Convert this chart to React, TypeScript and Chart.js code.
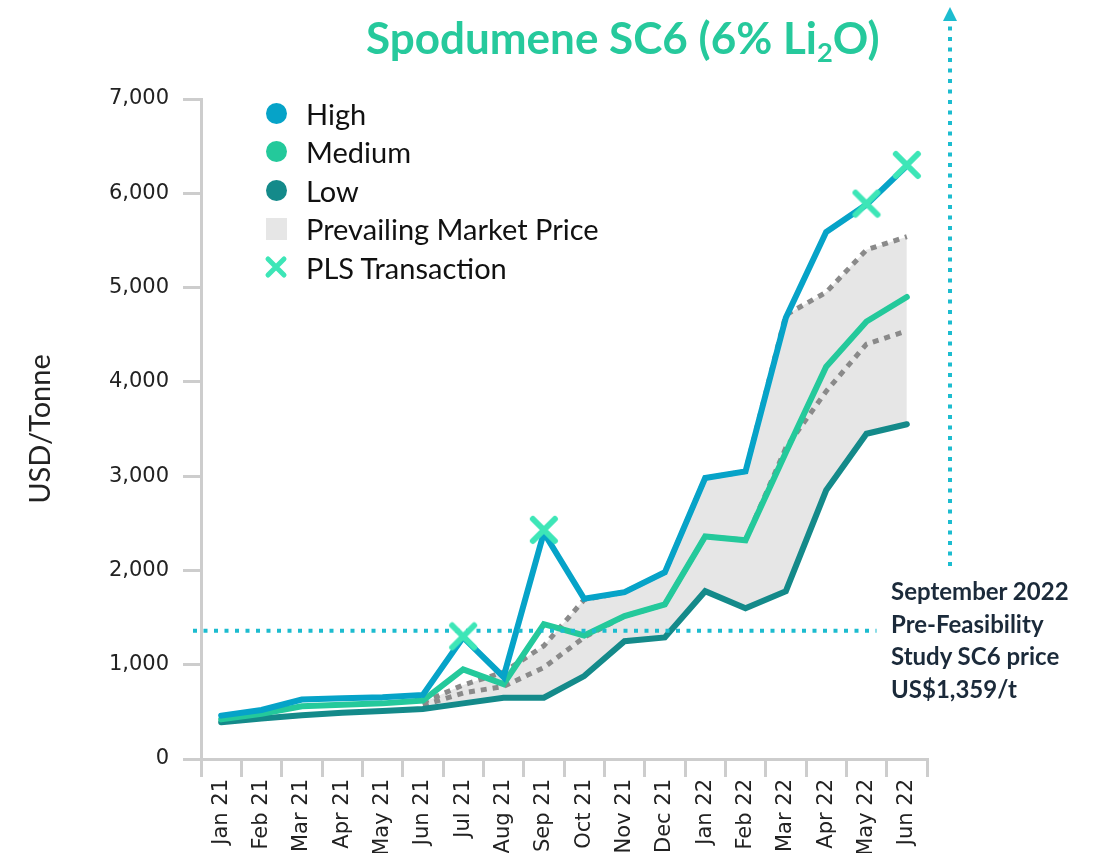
import React, { useEffect, useRef } from 'react';
import { Chart, registerables } from 'chart.js';

Chart.register(...registerables);

const categories = ['Jan 21', 'Feb 21', 'Mar 21', 'Apr 21', 'May 21', 'Jun 21', 'Jul 21', 'Aug 21', 'Sep 21', 'Oct 21', 'Nov 21', 'Dec 21', 'Jan 22', 'Feb 22', 'Mar 22', 'Apr 22', 'May 22', 'Jun 22'];
const high = [460, 520, 630, 645, 655, 680, 1290, 870, 2400, 1700, 1770, 1980, 2980, 3050, 4680, 5590, 5880, 6290];
const medium = [420, 480, 560, 575, 590, 620, 950, 795, 1430, 1310, 1515, 1640, 2360, 2320, 3250, 4160, 4640, 4900];
const low = [390, 430, 465, 490, 510, 530, 590, 650, 650, 880, 1250, 1290, 1780, 1600, 1780, 2850, 3450, 3550];
const marketUpper = [null, null, null, null, null, 600, 785, 920, 1200, 1690, 1770, 1980, 2980, 3050, 4710, 4950, 5400, 5540];
const marketLower = [null, null, null, null, null, 570, 700, 770, 970, 1290, 1515, 1640, 2360, 2320, 3300, 3900, 4400, 4540];
const plsTransaction = [null, null, null, null, null, null, 1300, null, 2430, null, null, null, null, null, null, null, 5890, 6300];
const studyPrice = 1359;
const yTicks = [0, 1000, 2000, 3000, 4000, 5000, 6000, 7000];

const C_HIGH = '#06a3c8';
const C_MED = '#24c99b';
const C_LOW = '#148a8a';
const C_BAND = '#e6e6e6';
const C_DOT = '#8a8a8a';
const C_PLS = '#3de6b7';
const C_CYAN = '#1cbccf';
const C_AXIS = '#cdcdcd';

function makeCross(size: number, lw: number, color: string) {
  const c = document.createElement('canvas');
  c.width = size;
  c.height = size;
  const ctx = c.getContext('2d')!;
  const p = lw / 2 + 1;
  ctx.strokeStyle = color;
  ctx.lineWidth = lw;
  ctx.lineCap = 'round';
  ctx.beginPath();
  ctx.moveTo(p, p);
  ctx.lineTo(size - p, size - p);
  ctx.moveTo(size - p, p);
  ctx.lineTo(p, size - p);
  ctx.stroke();
  return c;
}

const decorPlugin = {
  id: 'decor',
  beforeDatasetDraw(chart: any, args: any) {
    if (args.index !== 0) return;
    const { ctx, scales, chartArea } = chart;
    const y = scales.y.getPixelForValue(studyPrice);
    const x0 = chartArea.left - 8;
    const x1 = scales.x.getPixelForValue(16) + 10;
    ctx.save();
    ctx.strokeStyle = C_CYAN;
    ctx.lineWidth = 4;
    ctx.setLineDash([4, 6.5]);
    ctx.beginPath();
    ctx.moveTo(x0, y);
    ctx.lineTo(x1, y);
    ctx.stroke();
    ctx.restore();
  },
  afterDraw(chart: any) {
    const { ctx, chartArea } = chart;
    const x = chartArea.right + 23;
    const yBottom = 566;
    const yTop = 20;
    ctx.save();
    ctx.strokeStyle = C_CYAN;
    ctx.lineWidth = 4;
    ctx.setLineDash([4, 6.5]);
    ctx.beginPath();
    ctx.moveTo(x, yBottom);
    ctx.lineTo(x, yTop);
    ctx.stroke();
    ctx.setLineDash([]);
    ctx.fillStyle = C_CYAN;
    ctx.beginPath();
    ctx.moveTo(x, 7);
    ctx.lineTo(x - 7, 21);
    ctx.lineTo(x + 7, 21);
    ctx.closePath();
    ctx.fill();
    ctx.restore();
  },
};

export default function App() {
  const ref = useRef<HTMLCanvasElement>(null);

  useEffect(() => {
    if (!ref.current) return;
    const cross = makeCross(30, 6, C_PLS);
    const chart = new Chart(ref.current, {
      type: 'line',
      data: {
        labels: categories,
        datasets: [
          {
            label: 'PLS Transaction',
            data: plsTransaction,
            showLine: false,
            pointStyle: cross as any,
            pointRadius: 15,
            order: 0,
          } as any,
          {
            label: 'High',
            data: high,
            borderColor: C_HIGH,
            borderWidth: 6,
            pointRadius: 0,
            borderCapStyle: 'round',
            order: 1,
          },
          {
            label: 'Medium',
            data: medium,
            borderColor: C_MED,
            borderWidth: 6,
            pointRadius: 0,
            borderCapStyle: 'round',
            order: 2,
          },
          {
            label: 'Low',
            data: low,
            borderColor: C_LOW,
            borderWidth: 6,
            pointRadius: 0,
            borderCapStyle: 'round',
            order: 3,
          },
          {
            label: 'Market lower',
            data: marketLower,
            borderColor: C_DOT,
            borderWidth: 5,
            borderDash: [6, 6],
            pointRadius: 0,
            order: 4,
          },
          {
            label: 'Prevailing Market Price',
            data: marketUpper,
            borderColor: C_DOT,
            borderWidth: 5,
            borderDash: [6, 6],
            pointRadius: 0,
            backgroundColor: C_BAND,
            fill: { target: 3 },
            order: 5,
          } as any,
        ],
      },
      options: {
        responsive: false,
        animation: false,
        devicePixelRatio: 1,
        events: [],
        layout: { padding: { top: 99, right: 175, bottom: 0, left: 0 } },
        plugins: {
          legend: { display: false },
          tooltip: { enabled: false },
          title: { display: false },
        },
        scales: {
          x: {
            type: 'category',
            offset: true,
            grid: {
              offset: true,
              drawOnChartArea: false,
              drawTicks: true,
              tickLength: 18,
              color: C_AXIS,
              lineWidth: 3,
            },
            border: { display: true, color: C_AXIS, width: 3 },
            ticks: {
              autoSkip: false,
              maxRotation: 90,
              minRotation: 90,
              padding: 2,
              color: '#222',
              font: { family: 'DejaVu Sans', size: 21 },
            },
            afterFit: (s: any) => {
              s.height = 94;
            },
          },
          y: {
            min: 0,
            max: 7000,
            afterBuildTicks: (s: any) => {
              s.ticks = yTicks.map((v) => ({ value: v }));
            },
            grid: {
              drawOnChartArea: false,
              drawTicks: true,
              tickLength: 18,
              color: C_AXIS,
              lineWidth: 3,
            },
            border: { display: true, color: C_AXIS, width: 3 },
            ticks: {
              padding: 14,
              color: '#222',
              font: { family: 'DejaVu Sans', size: 21 },
              callback: (v: any) => Number(v).toLocaleString('en-US'),
            },
            title: {
              display: true,
              text: 'USD/Tonne',
              color: '#222',
              font: { family: 'Lato', size: 29 },
              padding: { top: 23, bottom: 0 },
            },
            afterFit: (s: any) => {
              s.width = 201;
            },
          },
        },
      },
      plugins: [decorPlugin],
    });
    return () => chart.destroy();
  }, []);

  const legendItems = [
    { label: 'High', kind: 'circle', color: C_HIGH },
    { label: 'Medium', kind: 'circle', color: C_MED },
    { label: 'Low', kind: 'circle', color: C_LOW },
    { label: 'Prevailing Market Price', kind: 'rect', color: C_BAND },
    { label: 'PLS Transaction', kind: 'cross', color: C_PLS },
  ];

  return (
    <div style={{ position: 'absolute', left: 0, top: 0, width: 1102, height: 853, background: '#fff', overflow: 'hidden' }}>
      <canvas ref={ref} width={1102} height={853} style={{ position: 'absolute', left: 0, top: 0, width: 1102, height: 853 }} />
      <div
        style={{
          position: 'absolute',
          left: 366,
          top: 11,
          fontFamily: 'Lato, sans-serif',
          fontWeight: 700,
          fontSize: 44,
          lineHeight: '52px',
          color: '#26c99c',
          whiteSpace: 'nowrap',
        }}
      >
        Spodumene SC6 (6% Li<span style={{ fontSize: '0.62em', verticalAlign: '-0.3em' }}>2</span>O)
      </div>
      {legendItems.map((it, i) => (
        <div
          key={it.label}
          style={{
            position: 'absolute',
            left: 264,
            top: 113 + i * 38.6 - 18,
            height: 36,
            display: 'flex',
            alignItems: 'center',
            fontFamily: 'Lato, sans-serif',
            fontSize: 29,
            color: '#111',
            whiteSpace: 'nowrap',
          }}
        >
          <div style={{ width: 24, height: 24, display: 'flex', alignItems: 'center', justifyContent: 'center', marginRight: 18 }}>
            {it.kind === 'circle' && <div style={{ width: 21, height: 21, borderRadius: '50%', background: it.color }} />}
            {it.kind === 'rect' && <div style={{ width: 21, height: 22, background: it.color }} />}
            {it.kind === 'cross' && (
              <svg width="24" height="24" viewBox="0 0 24 24">
                <path d="M4 4 L20 20 M20 4 L4 20" stroke={it.color} strokeWidth="5" strokeLinecap="round" />
              </svg>
            )}
          </div>
          <span>{it.label}</span>
        </div>
      ))}
      <div
        style={{
          position: 'absolute',
          left: 891,
          top: 575,
          fontFamily: 'Lato, sans-serif',
          fontWeight: 700,
          fontSize: 24,
          lineHeight: '32.7px',
          color: '#1b2a3a',
          whiteSpace: 'nowrap',
        }}
      >
        <div>September 2022</div>
        <div>Pre-Feasibility</div>
        <div>Study SC6 price</div>
        <div>US$1,359/t</div>
      </div>
    </div>
  );
}
